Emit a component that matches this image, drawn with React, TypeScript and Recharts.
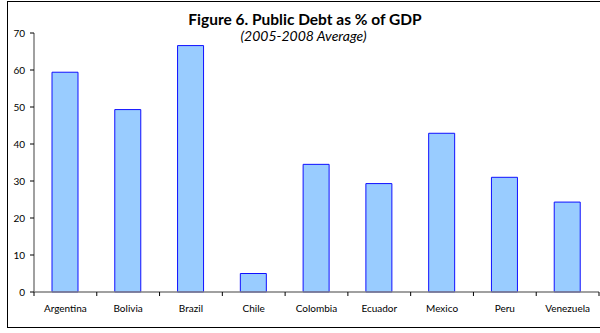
import { BarChart, Bar, XAxis, YAxis } from "recharts";

const countries = [
  "Argentina",
  "Bolivia",
  "Brazil",
  "Chile",
  "Colombia",
  "Ecuador",
  "Mexico",
  "Peru",
  "Venezuela",
];
const debt = [59.4, 49.3, 66.6, 5.0, 34.5, 29.3, 42.9, 31.0, 24.3];
const yTicks = [0, 10, 20, 30, 40, 50, 60, 70];

const data = countries.map((name, i) => ({ name, debt: debt[i] }));

const FONT = "Lato, 'Open Sans', sans-serif";

// category axis ticks sit on the band edges, like Excel
function XTick(props: any) {
  const { x, y, payload, index } = props;
  const half = payload?.offset ?? 31.4;
  const ty = y - 8;
  return (
    <g>
      <line x1={x - half} x2={x - half} y1={ty} y2={ty + 4} stroke="#000" />
      {index === countries.length - 1 && (
        <line x1={x + half} x2={x + half} y1={ty} y2={ty + 4} stroke="#000" />
      )}
      <text
        x={x}
        y={y + 12}
        textAnchor="middle"
        fontSize={10}
        fontFamily={FONT}
        fill="#000"
      >
        {payload.value}
      </text>
    </g>
  );
}

export default function App() {
  return (
    <div
      style={{
        position: "absolute",
        left: 0,
        top: 0,
        width: 600,
        height: 333,
        overflow: "hidden",
        background: "#fff",
      }}
    >
      <div
        style={{
          position: "absolute",
          left: 7,
          top: 1,
          width: 620,
          height: 325,
          border: "1.5px solid #000",
        }}
      />
      <BarChart
        width={600}
        height={333}
        data={data}
        margin={{ top: 33, right: 1, left: 0, bottom: 11 }}
        style={{ position: "absolute", left: 0, top: 0 }}
      >
        <XAxis
          dataKey="name"
          tick={<XTick />}
          tickLine={false}
          axisLine={{ stroke: "#808080", strokeWidth: 1.5 }}
          interval={0}
          height={30}
        />
        <YAxis
          domain={[0, 70]}
          ticks={yTicks}
          width={34}
          tickSize={4}
          tickMargin={5}
          tickLine={{ stroke: "#000" }}
          axisLine={{ stroke: "#808080", strokeWidth: 1.5 }}
          tick={{ fontSize: 10, fontFamily: FONT, fill: "#000" }}
        />
        <Bar
          dataKey="debt"
          fill="#99ccff"
          stroke="#1010ff"
          strokeWidth={1}
          barSize={26}
          isAnimationActive={false}
        />
      </BarChart>
      <div
        style={{
          position: "absolute",
          left: 0,
          width: 610,
          top: 11,
          textAlign: "center",
          fontFamily: FONT,
          fontWeight: 700,
          fontSize: 15.5,
          lineHeight: "16px",
        }}
      >
        Figure 6. Public Debt as % of GDP
      </div>
      <div
        style={{
          position: "absolute",
          left: 0,
          width: 607,
          top: 29,
          textAlign: "center",
          fontFamily: FONT,
          fontStyle: "italic",
          fontSize: 14,
          lineHeight: "14px",
        }}
      >
        (2005-2008 Average)
      </div>
    </div>
  );
}
